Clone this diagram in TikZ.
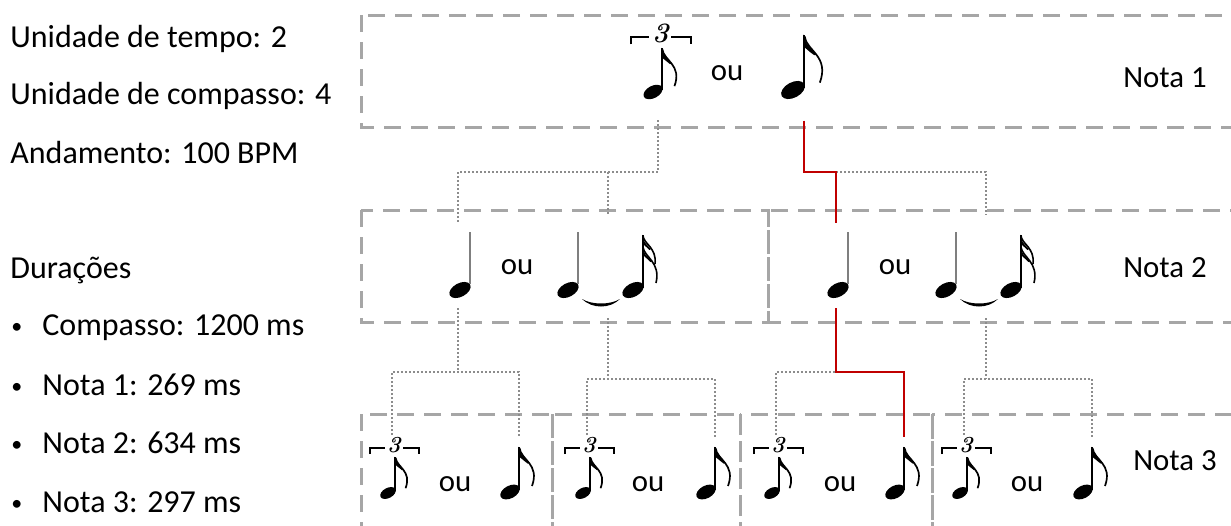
\documentclass[tikz,border=0pt]{standalone}
\usepackage{fontspec}
\newfontfamily\calibri{Carlito}
\definecolor{boxgray}{HTML}{A6A6A6}
\definecolor{dotgray}{HTML}{8C8C8C}
\definecolor{redpath}{HTML}{C00000}
\definecolor{stemgray}{HTML}{7F7F7F}
\newcommand\tripfont{\fontsize{11.5}{12}\selectfont\bfseries\itshape}
\newcommand\eighthbody{%
  \fill[rotate=28] (0,0) ellipse [x radius=10.5, y radius=6.3];
  \fill (8,-2) rectangle (10,-45);
  \draw[line width=0.85pt] (9.5,-44) .. controls (11,-32) and (30,-28) .. (22,-6);
  \fill (8.5,-45.5) .. controls (10,-37) and (15,-34) .. (19,-29) -- (17.5,-28.5) .. controls (14,-31) .. (9.5,-35) -- cycle;
}
\newcommand\sixteenthbody{%
  \fill[rotate=28] (0,0) ellipse [x radius=11.5, y radius=6.8];
  \fill (8.5,-2) rectangle (10.5,-55);
  \draw[line width=0.8pt] (10,-54) .. controls (11,-46) and (24,-42) .. (22,-26);
  \fill (9,-55.5) .. controls (10,-48) and (14,-45) .. (18,-41) -- (16.5,-40) .. controls (13,-43) .. (10,-46) -- cycle;
  \draw[line width=0.8pt] (10,-43) .. controls (11,-33) and (28,-28) .. (23,-7);
  \fill (9,-44) .. controls (10,-36) and (15,-33) .. (19,-29) -- (17.5,-28) .. controls (14,-31) .. (10,-35) -- cycle;
}
\newcommand\quarterbody{%
  \fill[rotate=28] (0,0) ellipse [x radius=11.5, y radius=6.8];
  \draw[stemgray, line width=0.7pt] (10,-6) -- (10,-58);
}
\tikzset{
  eighthnote/.pic={\eighthbody
    \coordinate (-c) at (9,-55); \coordinate (-b) at (9,25);},
  tripletnote/.pic={\begin{scope}[scale=0.8]\eighthbody\end{scope}
    \draw[line width=1.1pt] (-18,-39) -- (-18,-45) -- (-3,-45) (15,-45) -- (31,-45) -- (31,-39);
    \node[font=\tripfont, transform shape, inner sep=0pt] at (6,-48) {3};
    \coordinate (-c) at (4,-58); \coordinate (-b) at (4,23);},
  quarternote/.pic={\quarterbody
    \coordinate (-c) at (-2,-67); \coordinate (-b) at (-2,18);},
  tiedpair/.pic={\quarterbody
    \begin{scope}[shift={(65,0)}]\sixteenthbody\end{scope}
    \fill (14,9) .. controls (24,19) and (42,19) .. (52,9) .. controls (42,15) and (24,15) .. (14,9) -- cycle;
    \coordinate (-c) at (40,-75); \coordinate (-b) at (40,28);},
}
\begin{document}
\begin{tikzpicture}[x=0.5pt,y=-0.5pt,
  dashbox/.style={draw=boxgray, line width=1.5pt, dash pattern=on 8.5pt off 5pt},
  dotlink/.style={draw=dotgray, line width=1pt, dash pattern=on 1pt off 1pt},
  redlink/.style={draw=redpath, line width=1.4pt},
  txt/.style={font=\calibri\fontsize{16}{19}\selectfont, inner sep=0pt, anchor=base west},
  bul/.style={font=\calibri\fontsize{11}{13}\selectfont, inner sep=0pt, anchor=base west},
  lbl/.style={font=\calibri\fontsize{15.4}{18}\selectfont, inner sep=0pt, anchor=base}]
\useasboundingbox (0,0) rectangle (1231,525);
\clip (0,0) rectangle (1231,525);

% boxes
\draw[dashbox] (361,15) rectangle (1260,127);
\draw[dashbox] (361,210) rectangle (768,322);
\draw[dashbox] (768,210) rectangle (1260,322);
\draw[dashbox] (361,414) rectangle (552,560);
\draw[dashbox] (552,414) rectangle (740,560);
\draw[dashbox] (740,414) rectangle (932,560);
\draw[dashbox] (932,414) rectangle (1260,560);

% left text
\node[txt] (ut) at (10,47) {Unidade de tempo: 2};
\node[txt] (uc) at (10,104) {Unidade de compasso: 4};
\node[txt] (an) at (10,163) {Andamento: 100 BPM};
\node[txt] (du) at (10,278) {Durações};
\node[bul] (b1) at (11,333) {•};
\node[txt] (d1) at (42,335) {Compasso: 1200 ms};
\node[bul] (b2) at (11,393) {•};
\node[txt] (d2) at (42,395) {Nota 1: 269 ms};
\node[bul] (b3) at (11,451) {•};
\node[txt] (d3) at (42,453) {Nota 2: 634 ms};
\node[bul] (b4) at (11,510) {•};
\node[txt] (d4) at (42,512) {Nota 3: 297 ms};

% row labels
\node[lbl] (n1) at (1165,87) {Nota 1};
\node[lbl] (n2) at (1165,277) {Nota 2};
\node[lbl] (n3) at (1175,470) {Nota 3};

% level 1
\pic[scale=1.22] (L1t) at (653,92) {tripletnote};
\pic[scale=1.22] (L1e) at (793,90) {eighthnote};
\node[lbl] (o1) at (727,80) {ou};

% level 2
\pic (L2q1) at (460,290) {quarternote};
\pic (L2t1) at (568,290) {tiedpair};
\pic (L2q2) at (838,290) {quarternote};
\pic (L2t2) at (946,290) {tiedpair};
\node[lbl] (o2a) at (517,274) {ou};
\node[lbl] (o2b) at (895,274) {ou};

% level 3
\pic (L3t1) at (388,493) {tripletnote};
\pic (L3e1) at (510,492) {eighthnote};
\pic (L3t2) at (583,493) {tripletnote};
\pic (L3e2) at (706,492) {eighthnote};
\pic (L3t3) at (772,493) {tripletnote};
\pic (L3e3) at (895,492) {eighthnote};
\pic (L3t4) at (960,493) {tripletnote};
\pic (L3e4) at (1083,492) {eighthnote};
\node[lbl] (o3a) at (455,491) {ou};
\node[lbl] (o3b) at (648,491) {ou};
\node[lbl] (o3c) at (840,491) {ou};
\node[lbl] (o3d) at (1027,491) {ou};

% junction levels
\coordinate (j1) at (0,172);
\coordinate (j2) at (0,372);
\coordinate (j3) at (0,379);

% level 1 -> level 2
\draw[dotlink] (L1t-b) |- (L2q1-c |- j1) -- (L2q1-c);
\draw[dotlink] (L2t1-c |- j1) -- (L2t1-c);
\draw[dotlink] (L2q2-c |- j1) -| (L2t2-c);
\draw[redlink] (L1e-b) |- (L2q2-c |- j1) -- (L2q2-c);

% level 2 -> level 3
\draw[dotlink] (L2q1-b) -- (L2q1-b |- j2);
\draw[dotlink] (L3t1-c) |- (L3e1-c |- j2) -- (L3e1-c);
\draw[dotlink] (L2t1-b) -- (L2t1-b |- j3);
\draw[dotlink] (L3t2-c) |- (L3e2-c |- j3) -- (L3e2-c);
\draw[dotlink] (L3t3-c) |- (L2q2-b |- j2);
\draw[redlink] (L2q2-b) |- (L3e3-c |- j2) -- (L3e3-c);
\draw[dotlink] (L2t2-b) -- (L2t2-b |- j3);
\draw[dotlink] (L3t4-c) |- (L3e4-c |- j3) -- (L3e4-c);
\end{tikzpicture}
\end{document}
